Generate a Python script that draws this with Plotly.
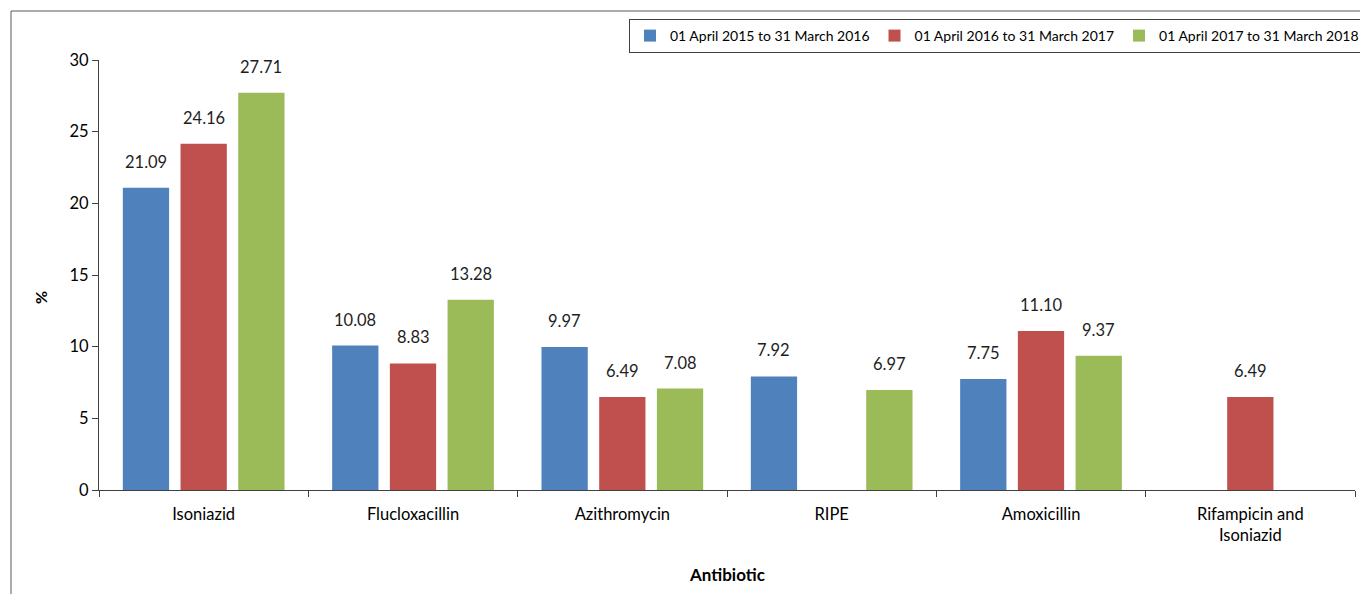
import plotly.graph_objects as go

categories = ["Isoniazid", "Flucloxacillin", "Azithromycin", "RIPE", "Amoxicillin", "Rifampicin and<br>Isoniazid"]
series_names = ["01 April 2015 to 31 March 2016", "01 April 2016 to 31 March 2017", "01 April 2017 to 31 March 2018"]
s2015_16 = [21.09, 10.08, 9.97, 7.92, 7.75, None]
s2016_17 = [24.16, 8.83, 6.49, None, 11.10, 6.49]
s2017_18 = [27.71, 13.28, 7.08, 6.97, 9.37, None]
colors = ["#4F81BD", "#C0504D", "#9BBB59"]
y_ticks = [0, 5, 10, 15, 20, 25, 30]

FONT = "Lato, 'Open Sans', sans-serif"
BARGAP = 0.173
all_series = [s2015_16, s2016_17, s2017_18]

fig = go.Figure()
for name, vals, col in zip(series_names, all_series, colors):
    fig.add_trace(go.Bar(x=categories, y=vals, name=name, marker=dict(color=col, line=dict(width=0))))

# value labels above bars
slot = (1 - BARGAP) / len(all_series)
annotations = []
for si, vals in enumerate(all_series):
    off = (si - (len(all_series) - 1) / 2) * slot
    for ci, v in enumerate(vals):
        if v is None:
            continue
        annotations.append(dict(x=ci + off, y=v, xref="x", yref="y", text=f"{v:.2f}",
                                showarrow=False, yanchor="middle", yshift=26,
                                font=dict(family=FONT, size=16.5, color="#1e1e1e")))

# axis titles
annotations.append(dict(x=(40 - 99) / 1256, y=(490 - 297) / 430, xref="paper", yref="paper",
                        xanchor="center", yanchor="middle",
                        text="<b>%</b>", textangle=-90, showarrow=False,
                        font=dict(family=FONT, size=16, color="#000")))
annotations.append(dict(x=0.5, y=(490 - 574) / 430, xref="paper", yref="paper",
                        xanchor="center", yanchor="middle",
                        text="<b>Antibiotic</b>", showarrow=False,
                        font=dict(family=FONT, size=17, color="#000")))

fig.update_layout(
    width=1360, height=594,
    margin=dict(l=99, r=5, t=60, b=104, autoexpand=False),
    paper_bgcolor="white", plot_bgcolor="white",
    barmode="group", bargap=BARGAP, bargroupgap=0.198,
    font=dict(family=FONT, size=16, color="#000"),
    showlegend=True,
    legend=dict(orientation="h", x=(629 - 99) / 1256, xanchor="left",
                y=(490 - 19) / 430, yanchor="top",
                bordercolor="#404040", borderwidth=1,
                font=dict(family=FONT, size=14, color="#000"),
                traceorder="normal", itemwidth=30, bgcolor="white"),
    annotations=annotations,
    shapes=[dict(type="rect", xref="paper", yref="paper",
                 x0=(11 - 99) / 1256, x1=1.2, y0=-0.5, y1=(490 - 11) / 430,
                 line=dict(color="#595959", width=1), fillcolor="rgba(0,0,0,0)", layer="below")],
)
fig.update_xaxes(type="category", showline=True, linecolor="#404040", linewidth=1,
                 ticks="outside", ticklen=6, tickcolor="#404040", tickson="boundaries",
                 ticklabelstandoff=9,
                 showgrid=False, tickfont=dict(family=FONT, size=16.5, color="#000"))
fig.update_yaxes(range=[0, 30], tickvals=y_ticks, showline=True, linecolor="#404040", linewidth=1,
                 ticks="outside", ticklen=6, tickcolor="#404040", showgrid=False, zeroline=False,
                 tickfont=dict(family=FONT, size=16.5, color="#000"))

fig.write_html("out.html")
